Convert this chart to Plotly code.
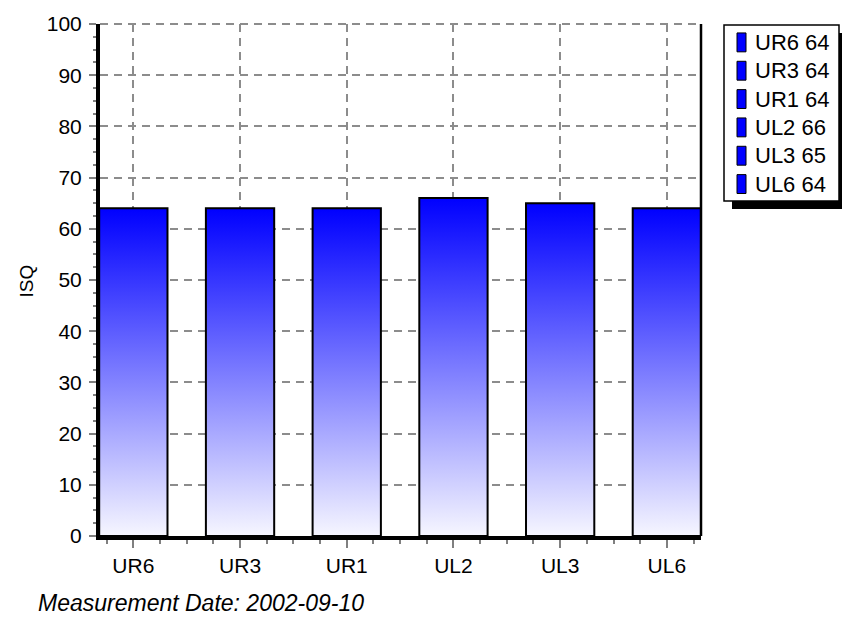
import plotly.graph_objects as go

# Implant stability readings per site
categories = ["UR6", "UR3", "UR1", "UL2", "UL3", "UL6"]
isq_values = [64, 64, 64, 66, 65, 64]
y_ticks = [0, 10, 20, 30, 40, 50, 60, 70, 80, 90, 100]
axis_title = "ISQ"
date_label = "Measurement Date: 2002-09-10"

W, H = 842, 617
L, R, T, B = 100, 141, 21, 81
plot_w = W - L - R
plot_h = H - T - B


def px_x(px):
    """Pixel column -> paper x."""
    return (px - L) / plot_w


def px_y(py):
    """Pixel row -> paper y."""
    return (H - B - py) / plot_h


FONT = "Liberation Sans, Arial, sans-serif"
BAR_WIDTH = 0.64
GRADIENT = [[0, "#f6f6ff"], [1, "#0000ff"]]
GRID_COLOR = "#8c8c8c"
GRID_DASH = "8px,6px"

fig = go.Figure()

# Bars with a vertical white-to-blue gradient and black outline
for i, (cat, v) in enumerate(zip(categories, isq_values)):
    x0, x1 = i - BAR_WIDTH / 2, i + BAR_WIDTH / 2
    fig.add_trace(go.Scatter(
        x=[x0, x0, x1, x1, x0],
        y=[0, v, v, 0, 0],
        mode="lines",
        fill="toself",
        fillgradient=dict(type="vertical", colorscale=GRADIENT),
        line=dict(color="black", width=2),
        name=cat,
        showlegend=False,
        hoverinfo="skip",
    ))

grid_style = dict(showgrid=True, gridcolor=GRID_COLOR, gridwidth=2, griddash=GRID_DASH)

fig.update_xaxes(
    range=[-0.3125, 5.32],
    tickmode="array",
    tickvals=list(range(len(categories))),
    ticktext=categories,
    ticks="outside", ticklen=8, tickwidth=1.5, tickcolor="#808080",
    showline=True, linecolor="black", linewidth=4,
    zeroline=False,
    tickfont=dict(family=FONT, size=21, color="black"),
    minor=dict(tick0=0, dtick=0.25, ticks="outside", ticklen=4,
               tickcolor="#808080", tickwidth=1.5, showgrid=False),
    **grid_style,
)
fig.update_yaxes(
    range=[0, 100],
    tickmode="array",
    tickvals=y_ticks,
    ticks="outside", ticklen=7, tickwidth=1.5, tickcolor="#808080",
    ticklabelstandoff=3,
    showline=True, linecolor="black", linewidth=4,
    zeroline=False,
    tickfont=dict(family=FONT, size=21, color="black"),
    minor=dict(tick0=0, dtick=2.5, ticks="outside", ticklen=3,
               tickcolor="#808080", tickwidth=1.5, showgrid=False),
    **grid_style,
)

shapes = [
    # dashed grid line along the top edge (value 100)
    dict(type="line", xref="paper", yref="paper", x0=0, x1=1, y0=1, y1=1,
         line=dict(color=GRID_COLOR, width=2, dash=GRID_DASH), layer="below"),
    # right border of the plot area
    dict(type="line", xref="paper", yref="paper", x0=1, x1=1, y0=0, y1=1,
         line=dict(color="black", width=2.5)),
    # legend drop shadow and box
    dict(type="rect", xref="paper", yref="paper",
         x0=px_x(732), x1=px_x(848), y0=px_y(207), y1=px_y(30),
         fillcolor="black", line=dict(width=0)),
    dict(type="rect", xref="paper", yref="paper",
         x0=px_x(724), x1=px_x(839), y0=px_y(199), y1=px_y(22),
         fillcolor="white", line=dict(color="black", width=1.5)),
]

annotations = [
    dict(text=axis_title, textangle=-90, xref="paper", yref="paper",
         x=px_x(26), y=px_y(280), xanchor="center", yanchor="middle",
         showarrow=False, font=dict(family=FONT, size=19, color="black")),
    dict(text=date_label, xref="paper", yref="paper",
         x=px_x(36), y=px_y(603), xanchor="left", yanchor="middle",
         showarrow=False,
         font=dict(family=FONT, size=23, color="black", style="italic")),
]

# Legend rows: swatch + "site value"
for i, (cat, v) in enumerate(zip(categories, isq_values)):
    cy = 39.5 + 28.5 * i
    shapes.append(dict(type="rect", xref="paper", yref="paper",
                       x0=px_x(737), x1=px_x(746),
                       y0=px_y(cy + 9.5), y1=px_y(cy - 9.5),
                       fillcolor="#0000ff", line=dict(color="black", width=1)))
    annotations.append(dict(text=f"{cat} {v}", xref="paper", yref="paper",
                            x=px_x(753), y=px_y(cy), xanchor="left", yanchor="middle",
                            showarrow=False,
                            font=dict(family=FONT, size=22, color="black")))

fig.update_layout(
    width=W, height=H,
    margin=dict(l=L, r=R, t=T, b=B),
    paper_bgcolor="white",
    plot_bgcolor="white",
    showlegend=False,
    shapes=shapes,
    annotations=annotations,
)

fig.write_html("out.html")
